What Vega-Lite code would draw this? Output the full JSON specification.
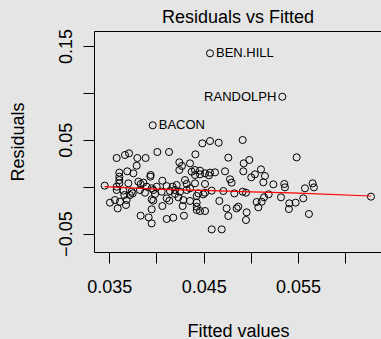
{
  "$schema": "https://vega.github.io/schema/vega-lite/v6.json",
  "width": 288,
  "height": 221,
  "autosize": "none",
  "padding": {"left": 94, "top": 31, "right": 0, "bottom": 87},
  "background": "#e5e5e5",
  "title": {"text": "Residuals vs Fitted", "fontSize": 18, "fontWeight": "normal", "font": "Liberation Sans", "color": "black", "anchor": "middle", "frame": "group", "baseline": "alphabetic", "offset": 8, "dy": 21},
  "datasets": {
    "points": [
      {"fitted": 0.04486, "residual": 0.0462},
      {"fitted": 0.04567, "residual": 0.0487},
      {"fitted": 0.04659, "residual": 0.0469},
      {"fitted": 0.04913, "residual": 0.0498},
      {"fitted": 0.03578, "residual": 0.0306},
      {"fitted": 0.03666, "residual": 0.0338},
      {"fitted": 0.03709, "residual": 0.0356},
      {"fitted": 0.03797, "residual": 0.0306},
      {"fitted": 0.03885, "residual": 0.0306},
      {"fitted": 0.04009, "residual": 0.0370},
      {"fitted": 0.04133, "residual": 0.0370},
      {"fitted": 0.04412, "residual": 0.0345},
      {"fitted": 0.04761, "residual": 0.0310},
      {"fitted": 0.04983, "residual": 0.0285},
      {"fitted": 0.05485, "residual": 0.0313},
      {"fitted": 0.03790, "residual": 0.0224},
      {"fitted": 0.04242, "residual": 0.0260},
      {"fitted": 0.04270, "residual": 0.0221},
      {"fitted": 0.04924, "residual": 0.0249},
      {"fitted": 0.04355, "residual": 0.0249},
      {"fitted": 0.03606, "residual": 0.0150},
      {"fitted": 0.03691, "residual": 0.0164},
      {"fitted": 0.03755, "residual": 0.0143},
      {"fitted": 0.03938, "residual": 0.0125},
      {"fitted": 0.04242, "residual": 0.0178},
      {"fitted": 0.04373, "residual": 0.0160},
      {"fitted": 0.04408, "residual": 0.0178},
      {"fitted": 0.04461, "residual": 0.0171},
      {"fitted": 0.04514, "residual": 0.0143},
      {"fitted": 0.04567, "residual": 0.0150},
      {"fitted": 0.04620, "residual": 0.0153},
      {"fitted": 0.04726, "residual": 0.0164},
      {"fitted": 0.04920, "residual": 0.0164},
      {"fitted": 0.05043, "residual": 0.0132},
      {"fitted": 0.05107, "residual": 0.0185},
      {"fitted": 0.05149, "residual": 0.0114},
      {"fitted": 0.05004, "residual": 0.0100},
      {"fitted": 0.03935, "residual": 0.0107},
      {"fitted": 0.03606, "residual": 0.0107},
      {"fitted": 0.04408, "residual": 0.0125},
      {"fitted": 0.04461, "residual": 0.0132},
      {"fitted": 0.04556, "residual": 0.0121},
      {"fitted": 0.03451, "residual": 0.0011},
      {"fitted": 0.03606, "residual": 0.0071},
      {"fitted": 0.03606, "residual": 0.0036},
      {"fitted": 0.03578, "residual": 0.0000},
      {"fitted": 0.03702, "residual": 0.0036},
      {"fitted": 0.03808, "residual": 0.0054},
      {"fitted": 0.03832, "residual": 0.0029},
      {"fitted": 0.03861, "residual": 0.0043},
      {"fitted": 0.04062, "residual": 0.0064},
      {"fitted": 0.04214, "residual": 0.0018},
      {"fitted": 0.04302, "residual": 0.0071},
      {"fitted": 0.04320, "residual": 0.0029},
      {"fitted": 0.04408, "residual": 0.0036},
      {"fitted": 0.04514, "residual": 0.0029},
      {"fitted": 0.04779, "residual": 0.0079},
      {"fitted": 0.04796, "residual": 0.0043},
      {"fitted": 0.05132, "residual": 0.0047},
      {"fitted": 0.05238, "residual": 0.0025},
      {"fitted": 0.05354, "residual": 0.0029},
      {"fitted": 0.05361, "residual": -0.0007},
      {"fitted": 0.05654, "residual": 0.0036},
      {"fitted": 0.05668, "residual": -0.0007},
      {"fitted": 0.05573, "residual": -0.0017},
      {"fitted": 0.04171, "residual": 0.0000},
      {"fitted": 0.04108, "residual": 0.0007},
      {"fitted": 0.04002, "residual": 0.0000},
      {"fitted": 0.03896, "residual": 0.0000},
      {"fitted": 0.03949, "residual": -0.0017},
      {"fitted": 0.04355, "residual": -0.0017},
      {"fitted": 0.03578, "residual": -0.0035},
      {"fitted": 0.03649, "residual": -0.0042},
      {"fitted": 0.03737, "residual": -0.0053},
      {"fitted": 0.03825, "residual": -0.0035},
      {"fitted": 0.03878, "residual": -0.0064},
      {"fitted": 0.03966, "residual": -0.0035},
      {"fitted": 0.04055, "residual": -0.0053},
      {"fitted": 0.04143, "residual": -0.0046},
      {"fitted": 0.04196, "residual": -0.0035},
      {"fitted": 0.04249, "residual": -0.0053},
      {"fitted": 0.04320, "residual": -0.0035},
      {"fitted": 0.04443, "residual": -0.0071},
      {"fitted": 0.04514, "residual": -0.0064},
      {"fitted": 0.04585, "residual": -0.0042},
      {"fitted": 0.04708, "residual": -0.0046},
      {"fitted": 0.04825, "residual": -0.0071},
      {"fitted": 0.04913, "residual": -0.0053},
      {"fitted": 0.04948, "residual": -0.0064},
      {"fitted": 0.03659, "residual": -0.0089},
      {"fitted": 0.03719, "residual": -0.0089},
      {"fitted": 0.03748, "residual": -0.0071},
      {"fitted": 0.03984, "residual": -0.0078},
      {"fitted": 0.04196, "residual": -0.0078},
      {"fitted": 0.04426, "residual": -0.0099},
      {"fitted": 0.04496, "residual": -0.0081},
      {"fitted": 0.05188, "residual": -0.0081},
      {"fitted": 0.05319, "residual": -0.0113},
      {"fitted": 0.05555, "residual": -0.0124},
      {"fitted": 0.03507, "residual": -0.0170},
      {"fitted": 0.03560, "residual": -0.0142},
      {"fitted": 0.03613, "residual": -0.0160},
      {"fitted": 0.03684, "residual": -0.0142},
      {"fitted": 0.03949, "residual": -0.0135},
      {"fitted": 0.03966, "residual": -0.0149},
      {"fitted": 0.04108, "residual": -0.0124},
      {"fitted": 0.04136, "residual": -0.0149},
      {"fitted": 0.04232, "residual": -0.0113},
      {"fitted": 0.04284, "residual": -0.0142},
      {"fitted": 0.04355, "residual": -0.0152},
      {"fitted": 0.04426, "residual": -0.0170},
      {"fitted": 0.04666, "residual": -0.0152},
      {"fitted": 0.05061, "residual": -0.0163},
      {"fitted": 0.05114, "residual": -0.0160},
      {"fitted": 0.05139, "residual": -0.0113},
      {"fitted": 0.05407, "residual": -0.0177},
      {"fitted": 0.05474, "residual": -0.0170},
      {"fitted": 0.03677, "residual": -0.0195},
      {"fitted": 0.03589, "residual": -0.0231},
      {"fitted": 0.04062, "residual": -0.0206},
      {"fitted": 0.03949, "residual": -0.0241},
      {"fitted": 0.04277, "residual": -0.0206},
      {"fitted": 0.04426, "residual": -0.0248},
      {"fitted": 0.04461, "residual": -0.0259},
      {"fitted": 0.04514, "residual": -0.0259},
      {"fitted": 0.04426, "residual": -0.0213},
      {"fitted": 0.04743, "residual": -0.0231},
      {"fitted": 0.04849, "residual": -0.0231},
      {"fitted": 0.04867, "residual": -0.0213},
      {"fitted": 0.04955, "residual": -0.0273},
      {"fitted": 0.05079, "residual": -0.0220},
      {"fitted": 0.05403, "residual": -0.0238},
      {"fitted": 0.03832, "residual": -0.0309},
      {"fitted": 0.03917, "residual": -0.0327},
      {"fitted": 0.04108, "residual": -0.0344},
      {"fitted": 0.04178, "residual": -0.0330},
      {"fitted": 0.04291, "residual": -0.0309},
      {"fitted": 0.04761, "residual": -0.0312},
      {"fitted": 0.04948, "residual": -0.0355},
      {"fitted": 0.05615, "residual": -0.0291},
      {"fitted": 0.03949, "residual": -0.0391},
      {"fitted": 0.04585, "residual": -0.0455},
      {"fitted": 0.04691, "residual": -0.0455},
      {"fitted": 0.06272, "residual": -0.0106},
      {"fitted": 0.04567, "residual": 0.1422, "label": "BEN.HILL"},
      {"fitted": 0.05333, "residual": 0.0959, "label": "RANDOLPH"},
      {"fitted": 0.03960, "residual": 0.0655, "label": "BACON"}
    ],
    "smooth": [
      {"fitted": 0.03451, "residual": 0.0000},
      {"fitted": 0.0400, "residual": -0.0025},
      {"fitted": 0.0450, "residual": -0.0040},
      {"fitted": 0.0500, "residual": -0.0055},
      {"fitted": 0.0550, "residual": -0.0068},
      {"fitted": 0.06272, "residual": -0.0099}
    ]
  },
  "layer": [
    {
      "data": {"name": "points"},
      "mark": {"type": "point", "filled": false, "stroke": "black", "strokeWidth": 1, "size": 50, "opacity": 1},
      "encoding": {
        "x": {
          "field": "fitted", "type": "quantitative",
          "scale": {"domain": [0.03338, 0.06389], "nice": false, "zero": false},
          "axis": {
            "values": [0.035, 0.04, 0.045, 0.05, 0.055, 0.06],
            "labelExpr": "round(datum.value*1000)%10==5 ? format(datum.value,'.3f') : ''",
            "domain": false, "grid": false,
            "tickSize": 11, "tickColor": "black", "tickWidth": 1,
            "labelFontSize": 18, "labelColor": "black", "labelFont": "Liberation Sans",
            "labelBaseline": "alphabetic", "labelPadding": 29, "labelFlush": false, "labelOverlap": false,
            "title": "Fitted values", "titleFontSize": 18, "titleFontWeight": "normal", "titleColor": "black", "titleFont": "Liberation Sans",
            "titleX": 144, "titleY": 84, "titleBaseline": "alphabetic", "titleAlign": "center"
          }
        },
        "y": {
          "field": "residual", "type": "quantitative",
          "scale": {"domain": [-0.0696, 0.166], "nice": false, "zero": false},
          "axis": {
            "values": [-0.05, 0, 0.05, 0.1, 0.15],
            "labelExpr": "round(datum.value*100)%10!=0 ? format(datum.value,'.2f') : ''",
            "domain": false, "grid": false,
            "tickSize": 11, "tickColor": "black", "tickWidth": 1,
            "labelFontSize": 18, "labelColor": "black", "labelFont": "Liberation Sans",
            "labelAngle": 270, "labelAlign": "center", "labelBaseline": "alphabetic", "labelPadding": 12,
            "labelFlush": false, "labelOverlap": false,
            "title": "Residuals", "titleFontSize": 18, "titleFontWeight": "normal", "titleColor": "black", "titleFont": "Liberation Sans",
            "titleAngle": 270, "titleX": -71, "titleY": 110.5, "titleBaseline": "alphabetic", "titleAlign": "center"
          }
        }
      }
    },
    {
      "mark": {"type": "rule", "color": "#bebebe", "strokeDash": [1, 3], "strokeWidth": 1},
      "encoding": {"y": {"datum": 0}}
    },
    {
      "data": {"name": "smooth"},
      "mark": {"type": "line", "color": "red", "strokeWidth": 1.2, "interpolate": "monotone"},
      "encoding": {
        "x": {"field": "fitted", "type": "quantitative"},
        "y": {"field": "residual", "type": "quantitative"}
      }
    },
    {
      "data": {"name": "points"},
      "transform": [{"filter": "datum.label == 'BEN.HILL' || datum.label == 'BACON'"}],
      "mark": {"type": "text", "align": "left", "baseline": "middle", "dx": 6, "fontSize": 13, "font": "Liberation Sans", "color": "black"},
      "encoding": {
        "x": {"field": "fitted", "type": "quantitative"},
        "y": {"field": "residual", "type": "quantitative"},
        "text": {"field": "label"}
      }
    },
    {
      "data": {"name": "points"},
      "transform": [{"filter": "datum.label == 'RANDOLPH'"}],
      "mark": {"type": "text", "align": "right", "baseline": "middle", "dx": -6, "fontSize": 13, "font": "Liberation Sans", "color": "black"},
      "encoding": {
        "x": {"field": "fitted", "type": "quantitative"},
        "y": {"field": "residual", "type": "quantitative"},
        "text": {"field": "label"}
      }
    }
  ],
  "config": {
    "font": "Liberation Sans",
    "view": {"stroke": "black", "strokeWidth": 1}
  }
}
